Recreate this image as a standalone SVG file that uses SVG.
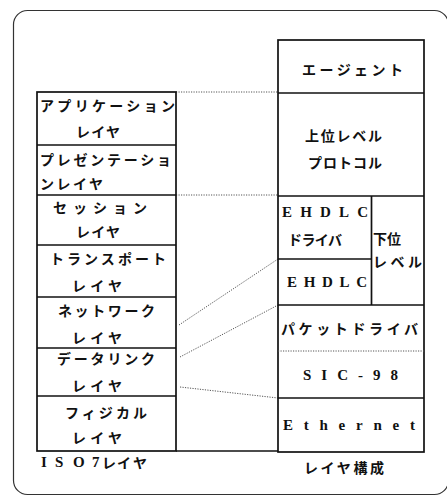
<svg xmlns="http://www.w3.org/2000/svg" width="447" height="497" viewBox="0 0 447 497">
<style>
.bx{fill:#fff;stroke:#111;stroke-width:1.7}
.ln{stroke:#111;stroke-width:1.7;fill:none}
.dt{stroke:#555;stroke-width:1;stroke-dasharray:1.2 1.3;fill:none}
text{font-family:"Noto Sans CJK JP","Noto Sans",sans-serif;font-size:14px;font-weight:700;fill:#111;dominant-baseline:central}
.lat{font-family:"Liberation Serif","Noto Sans CJK JP",serif;font-size:15px;font-weight:700}
</style>
<rect x="0" y="0" width="447" height="497" fill="#fff"/>
<rect x="13.5" y="10.5" width="435" height="484" rx="14" fill="none" stroke="#333" stroke-width="1.2"/>
<g id="connectors">
<line class="dt" x1="176" y1="92" x2="278" y2="92"/>
<line class="dt" x1="176" y1="195" x2="278" y2="195"/>
<line class="dt" x1="179" y1="325" x2="278" y2="259"/>
<line class="dt" x1="180" y1="357" x2="278" y2="305"/>
<line class="dt" x1="180" y1="387" x2="278" y2="398"/>
<line class="ln" x1="176" y1="451" x2="278" y2="451"/>
</g>
<g id="iso-stack">
<rect class="bx" x="37" y="92" width="139" height="359"/>
<line class="ln" x1="37" y1="145" x2="176" y2="145"/>
<line class="ln" x1="37" y1="195" x2="176" y2="195"/>
<line class="ln" x1="37" y1="245" x2="176" y2="245"/>
<line class="ln" x1="37" y1="297" x2="176" y2="297"/>
<line class="ln" x1="37" y1="348" x2="176" y2="348"/>
<line class="ln" x1="37" y1="396" x2="176" y2="396"/>
</g>
<g id="application"><text x="40" y="105" textLength="135" lengthAdjust="spacing">アプリケーション</text><text x="76" y="131" textLength="44" lengthAdjust="spacing">レイヤ</text></g>
<g id="presentation"><text x="40" y="159" textLength="131" lengthAdjust="spacing">プレゼンテーショ</text><text x="40" y="183" textLength="63" lengthAdjust="spacing">ンレイヤ</text></g>
<g id="session"><text x="53" y="207" textLength="94" lengthAdjust="spacing">セッション</text><text x="76" y="231" textLength="44" lengthAdjust="spacing">レイヤ</text></g>
<g id="transport"><text x="50" y="258" textLength="116" lengthAdjust="spacing">トランスポート</text><text x="72" y="285" textLength="50" lengthAdjust="spacing">レイヤ</text></g>
<g id="network"><text x="58" y="310" textLength="97" lengthAdjust="spacing">ネットワーク</text><text x="72" y="337" textLength="50" lengthAdjust="spacing">レイヤ</text></g>
<g id="datalink"><text x="57" y="358" textLength="98" lengthAdjust="spacing">データリンク</text><text x="72" y="385" textLength="50" lengthAdjust="spacing">レイヤ</text></g>
<g id="physical"><text x="65" y="412" textLength="82" lengthAdjust="spacing">フィジカル</text><text x="72" y="437" textLength="50" lengthAdjust="spacing">レイヤ</text></g>
<g id="iso-label"><text y="462"><tspan class="lat" x="41">I</tspan><tspan class="lat" x="55">S</tspan><tspan class="lat" x="73">O</tspan><tspan class="lat" x="92">7</tspan><tspan x="102">レ</tspan><tspan x="117">イ</tspan><tspan x="133">ヤ</tspan></text></g>
<g id="layer-stack">
<rect class="bx" x="278" y="40" width="146" height="412"/>
<line class="ln" x1="278" y1="93" x2="424" y2="93"/>
<line class="ln" x1="278" y1="196" x2="424" y2="196"/>
<line class="ln" x1="371.5" y1="196" x2="371.5" y2="305"/>
<line class="ln" x1="278" y1="259" x2="371.5" y2="259"/>
<line class="ln" x1="278" y1="305" x2="424" y2="305"/>
<line class="dt" x1="278" y1="351" x2="424" y2="351"/>
<line class="ln" x1="278" y1="398" x2="424" y2="398"/>
</g>
<g id="agent"><text x="302" y="69" textLength="101" lengthAdjust="spacing">エージェント</text></g>
<g id="upper"><text x="305" y="135" textLength="77" lengthAdjust="spacing">上位レベル</text><text x="308" y="162" textLength="74" lengthAdjust="spacing">プロトコル</text></g>
<g id="ehdlc-driver"><text class="lat" x="282" y="212" textLength="86" lengthAdjust="spacing">EHDLC</text><text x="288" y="239" textLength="54" lengthAdjust="spacing">ドライバ</text></g>
<g id="lower"><text x="373" y="238">下位</text><text x="373" y="261" textLength="49" lengthAdjust="spacing">レベル</text></g>
<g id="ehdlc"><text class="lat" x="287" y="282" textLength="80" lengthAdjust="spacing">EHDLC</text></g>
<g id="packet-driver"><text x="281" y="328" textLength="137" lengthAdjust="spacing">パケットドライバ</text></g>
<g id="sic98"><text class="lat" x="303" y="375" textLength="95" lengthAdjust="spacing">SIC-98</text></g>
<g id="ethernet"><text class="lat" x="283" y="425" textLength="132" lengthAdjust="spacing">Ethernet</text></g>
<g id="config-label"><text x="304" y="467" textLength="80" lengthAdjust="spacing">レイヤ構成</text></g>
</svg>
